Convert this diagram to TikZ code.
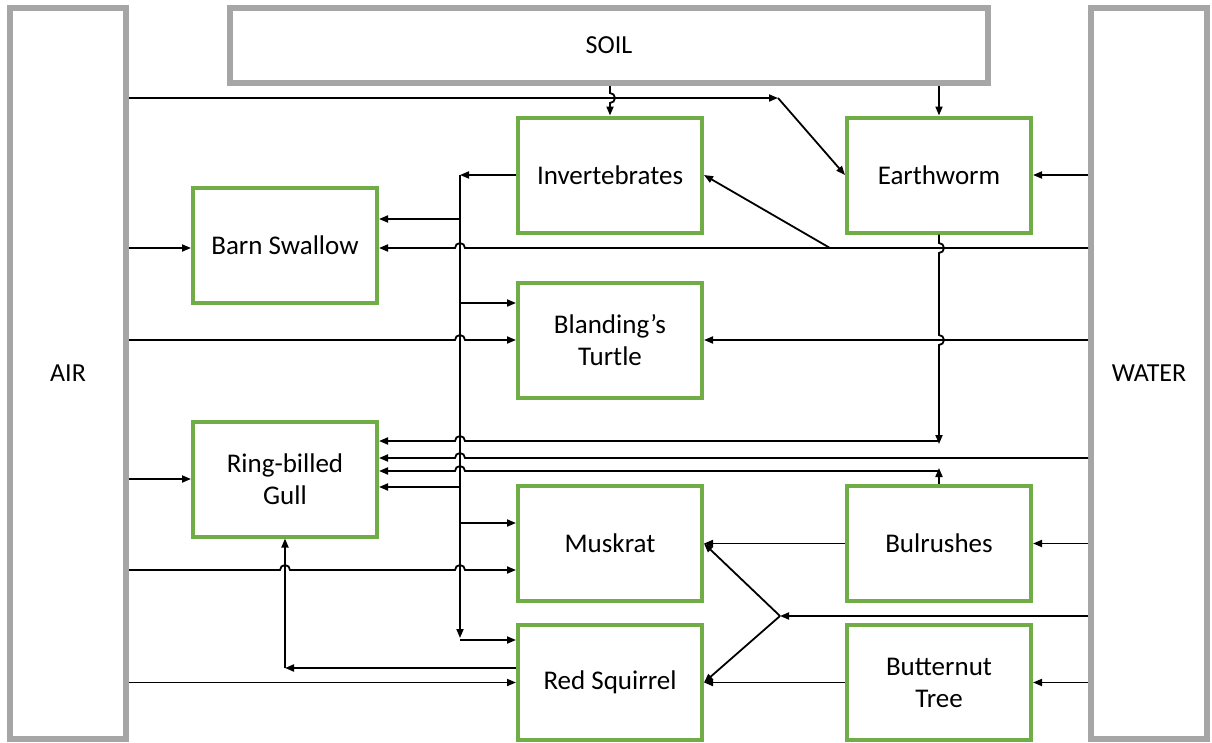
\documentclass[tikz,border=0pt]{standalone}
\usepackage{fontspec}
\setmainfont{Carlito}
\usetikzlibrary{arrows.meta}
\definecolor{envgray}{HTML}{A6A6A6}
\definecolor{boxgreen}{HTML}{70AD47}
\begin{document}
\begin{tikzpicture}[x=1pt,y=-1pt,
  env/.style={draw=envgray,line width=6pt,minimum width=116pt,minimum height=731pt,inner sep=0pt,font=\fontsize{26}{31}\selectfont},
  org/.style={draw=boxgreen,line width=4pt,minimum width=184pt,minimum height=115pt,inner sep=2pt,align=center,font=\fontsize{27}{32}\selectfont},
  arr/.style={line width=1.8pt,-{Triangle[length=9pt,width=7pt]}},
  ln/.style={line width=1.8pt}]
\useasboundingbox (0,0) rectangle (1212,742);
% environments
\node[env] (air) at (68,373.5) {AIR};
\node[env] (water) at (1149,373.5) {WATER};
\node[env,minimum width=758pt,minimum height=75pt] (soil) at (609,45.5) {SOIL};
% organisms
\node[org] (inv) at (610,175) {Invertebrates};
\node[org] (earth) at (939,175) {Earthworm};
\node[org] (barn) at (285,245.5) {Barn Swallow};
\node[org] (bland) at (610,340) {Blanding’s\\Turtle};
\node[org] (gull) at (285,479) {Ring-billed\\Gull};
\node[org] (musk) at (610,543.5) {Muskrat};
\node[org] (bul) at (939,543.5) {Bulrushes};
\node[org] (squir) at (610,682.5) {Red Squirrel};
\node[org] (butt) at (939,682.5) {Butternut\\Tree};
% junction coordinates
\coordinate (k1) at (778,98);
\coordinate (k2) at (830,248);
\coordinate (k3) at (939,441);
\coordinate (k4) at (939,471);
\coordinate (k5) at (285,668);
\coordinate (k6) at (780,616);
\coordinate (v1) at (460,175);
\coordinate (v2) at (460,640);
% AIR -> Earthworm
\draw[arr] (air.east |- k1) -- (k1);
\draw[arr] (k1) -- (earth.west);
% SOIL
\draw[arr] (inv.north |- soil.south) -- (610,93) arc[start angle=90,end angle=-90,radius=5pt] -- (inv.north);
\draw[arr] (earth.north |- soil.south) -- (earth.north);
% WATER -> Earthworm
\draw[arr] (water.west |- earth.east) -- (earth.east);
% Invertebrates trunk
\draw[arr] (inv.west) -- (v1);
\draw[arr] (v1) -- ([yshift=2pt]v2);
\draw[arr] (v2) -- (squir.west |- v2);
\draw[arr] (460,219) -- (barn.east |- 0,219);
\draw[arr] (460,303) -- (bland.west |- 0,303);
\draw[arr] (460,487) -- (gull.east |- 0,487);
\draw[arr] (460,523) -- (musk.west |- 0,523);
% Barn Swallow
\draw[arr] (air.east |- 0,248) -- (barn.west |- 0,248);
\draw[arr] (water.west |- 0,248) -- (465,248) arc[start angle=0,end angle=180,radius=5pt] -- (barn.east |- 0,248);
\draw[arr] (k2) -- (inv.east);
% Earthworm down to Gull
\draw[arr] (earth.south) -- (939,243) arc[start angle=90,end angle=-90,radius=5pt] -- (939,335) arc[start angle=90,end angle=-90,radius=5pt] -- ([yshift=-3pt]k3);
\draw[arr] (k3) -- (465,441) arc[start angle=0,end angle=180,radius=5pt] -- (gull.east |- k3);
% Blanding's Turtle
\draw[arr] (air.east |- 0,340) -- (455,340) arc[start angle=180,end angle=0,radius=5pt] -- (bland.west |- 0,340);
\draw[arr] (water.west |- 0,340) -- (bland.east |- 0,340);
% Gull
\draw[arr] (water.west |- 0,458) -- (465,458) arc[start angle=0,end angle=180,radius=5pt] -- (gull.east |- 0,458);
\draw[arr] (bul.north) -- ([yshift=3pt]k4);
\draw[arr] (k4) -- (465,471) arc[start angle=0,end angle=180,radius=5pt] -- (gull.east |- k4);
\draw[arr] (air.east |- gull.west) -- (gull.west);
\draw[arr] (squir.west |- k5) -- (k5);
\draw[arr] (k5) -- (gull.south);
% Muskrat
\draw[arr] (air.east |- 0,570) -- (280,570) arc[start angle=180,end angle=0,radius=5pt] -- (455,570) arc[start angle=180,end angle=0,radius=5pt] -- (musk.west |- 0,570);
\draw[arr] (bul.west) -- (musk.east);
\draw[arr] (water.west |- bul.east) -- (bul.east);
\draw[arr] (water.west |- k6) -- (k6);
\draw[arr] (k6) -- (musk.east);
\draw[arr] (k6) -- (squir.east);
% Red Squirrel
\draw[arr] (air.east |- squir.west) -- (squir.west);
\draw[arr] (butt.west) -- (squir.east);
\draw[arr] (water.west |- butt.east) -- (butt.east);
\end{tikzpicture}
\end{document}
